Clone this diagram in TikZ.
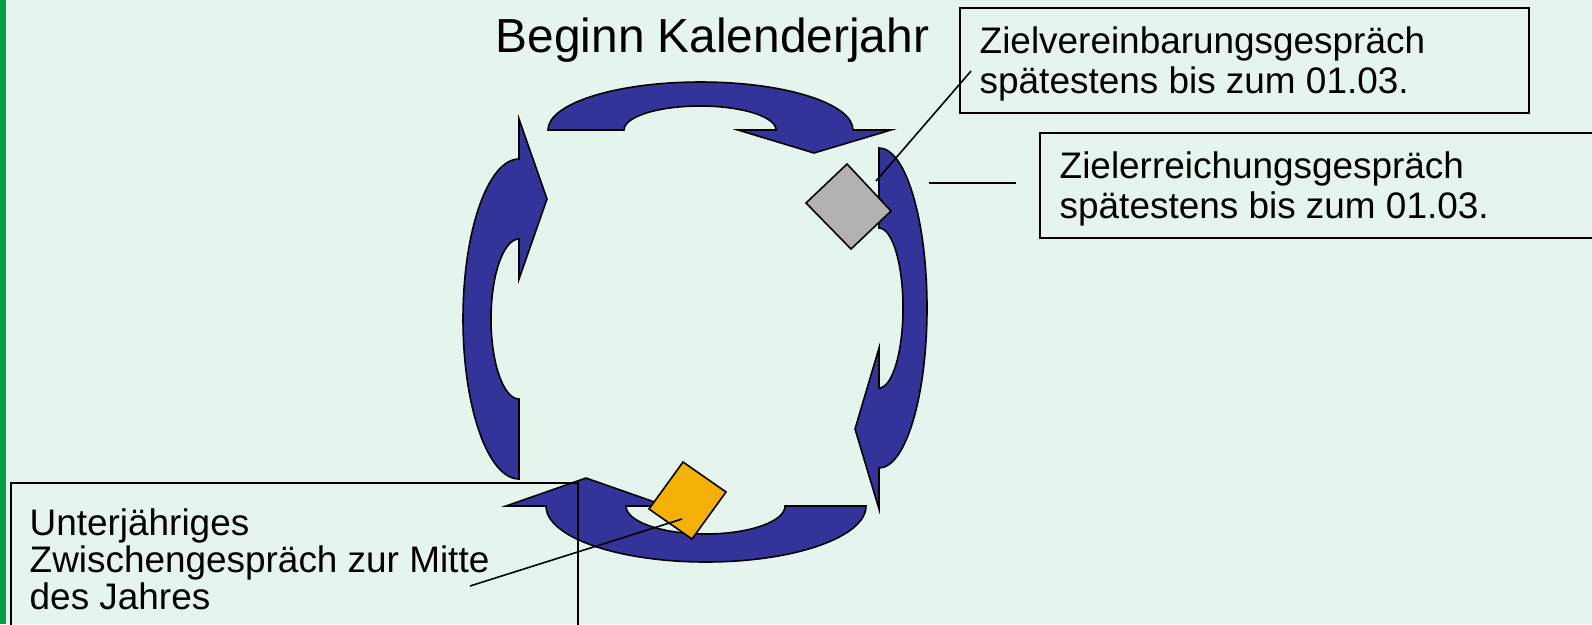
\documentclass[tikz,border=0pt]{standalone}
\usepackage{fontspec}
\setmainfont{Liberation Sans}
\usetikzlibrary{calc}

\definecolor{bgmint}{RGB}{229,244,237}
\definecolor{bargreen}{RGB}{0,160,70}
\definecolor{arrowblue}{RGB}{51,51,153}
\definecolor{markgrey}{RGB}{178,178,178}
\definecolor{markorange}{RGB}{245,176,8}

\begin{document}
\begin{tikzpicture}[x=0.01cm, y=-0.01cm,
    cycarrow/.style={fill=arrowblue, draw=black, line width=0.45pt, line join=miter},
    marker/.style={draw=black, line width=0.45pt},
    infobox/.style={draw=black, line width=0.55pt, inner sep=0pt, anchor=north west},
    infotext/.style={inner sep=0pt, anchor=north west, align=left, font=\fontsize{10.5pt}{11.4pt}\selectfont},
    pointer/.style={draw=black, line width=0.45pt}]

            % Page and left bar
            \path[use as bounding box] (0,0) rectangle (1592,624);
            \clip (0,0) rectangle (1592,624);
            \fill[bgmint] (0,0) rectangle (1592,624);
            \fill[bargreen] (0,0) rectangle (6,624);

            % Draw the four curved arrows (top, right, bottom, left)
            \draw[cycarrow] (548,130) arc[start angle=180, end angle=360, x radius=152.5, y radius=48]
                -- (891,130) -- (814,153) -- (738,130) -- (776,130)
                arc[start angle=360, end angle=180, x radius=76, y radius=24] -- cycle;
            \draw[cycarrow] (879,148) arc[start angle=270, end angle=450, x radius=48, y radius=160]
                -- (879,509) -- (855,429) -- (879,348) -- (879,388)
                arc[start angle=90, end angle=-90, x radius=24, y radius=80] -- cycle;
            \draw[cycarrow] (866,506) arc[start angle=0, end angle=180, x radius=160, y radius=56]
                -- (506,506) -- (586,478) -- (666,506) -- (626,506)
                arc[start angle=180, end angle=0, x radius=79.5, y radius=28] -- cycle;
            \draw[cycarrow] (519,479) arc[start angle=90, end angle=270, x radius=56, y radius=160]
                -- (519,119) -- (547,199) -- (519,279) -- (519,239)
                arc[start angle=270, end angle=90, x radius=28, y radius=80] -- cycle;

            % Draw the talk markers
            \draw[marker, fill=markgrey] (847,164) -- (891,211) -- (851,249) -- (806,203) -- cycle;
            \draw[marker, fill=markorange] (683,462) -- (726,492) -- (692,539) -- (649,509) -- cycle;

            % Boxes
            \node[infobox, minimum width=5.69cm, minimum height=1.05cm] (zvbox) at (959,7) {};
            \node[infobox, minimum width=6.2cm, minimum height=1.05cm] (zebox) at (1039,132) {};
            \node[infobox, minimum width=5.67cm, minimum height=2cm] (ujbox) at (10,482) {};

            % Pointer ends
            \coordinate (zvfrom) at (876,181);
            \coordinate (zvto) at (971,71);
            \coordinate (zefrom) at (929,183);
            \coordinate (zeto) at (1016,183);
            \coordinate (ujfrom) at (682,519);
            \coordinate (ujto) at (470,586);

            \draw[pointer] (zvfrom) -- (zvto);
            \draw[pointer] (zefrom) -- (zeto);
            \draw[pointer] (ujfrom) -- (ujto);

            % Texts
            \node[anchor=base west, inner sep=0pt, font=\fontsize{13.6pt}{16pt}\selectfont] (title) at (495,52) {Beginn Kalenderjahr};
            \node[infotext] (zvtext) at (979,26) {Zielvereinbarungsgespräch\\spätestens bis zum 01.03.};
            \node[infotext] (zetext) at (1059,151) {Zielerreichungsgespräch\\spätestens bis zum 01.03.};
            \node[infotext, font=\fontsize{10.5pt}{10.5pt}\selectfont] (ujtext) at (29,508) {Unterjähriges\\Zwischengespräch zur Mitte\\des Jahres};
\end{tikzpicture}
\end{document}
